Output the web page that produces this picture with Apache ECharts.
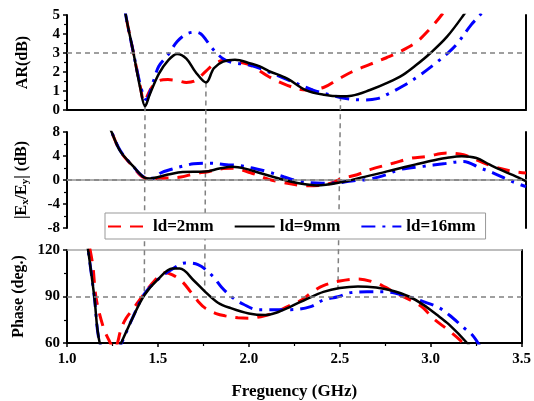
<!DOCTYPE html>
<html>
<head>
<meta charset="utf-8">
<script src="https://cdn.jsdelivr.net/npm/echarts@6/dist/echarts.min.js"></script>
<style>
  html, body { margin: 0; padding: 0; background: #fff; }
  #chart { width: 534px; height: 401px; }
</style>
</head>
<body>
<div id="chart"></div>
<script>
(function () {
  // series names
  const names = ["ld=2mm", "ld=9mm", "ld=16mm"];

  // AR (dB)
  const arX2 = [1.29, 1.32, 1.36, 1.40, 1.42, 1.45, 1.49, 1.55, 1.60, 1.65, 1.70, 1.757, 1.80, 1.85, 1.90, 1.95, 2.0, 2.1, 2.2, 2.3, 2.4, 2.47, 2.55, 2.65, 2.74, 2.81, 2.9, 2.97, 3.04, 3.08];
  const arY2 = [7.0, 5.0, 3.1, 1.2, 0.45, 1.0, 1.5, 1.6, 1.55, 1.45, 1.55, 2.05, 2.4, 2.6, 2.6, 2.5, 2.35, 1.75, 1.3, 1.05, 1.2, 1.58, 2.0, 2.4, 2.75, 3.05, 3.55, 4.2, 5.0, 5.6];
  const arX9 = [1.29, 1.32, 1.36, 1.40, 1.425, 1.45, 1.50, 1.55, 1.60, 1.65, 1.70, 1.757, 1.80, 1.85, 1.915, 2.0, 2.05, 2.1, 2.2, 2.3, 2.4, 2.49, 2.55, 2.65, 2.75, 2.83, 2.9, 2.98, 3.07, 3.16, 3.2];
  const arY9 = [7.0, 5.0, 3.1, 1.1, 0.2, 0.8, 1.9, 2.6, 2.95, 2.7, 2.0, 1.45, 2.2, 2.55, 2.65, 2.45, 2.3, 2.05, 1.65, 1.05, 0.8, 0.72, 0.75, 1.05, 1.45, 1.85, 2.35, 3.0, 3.86, 5.0, 5.6];
  const arX16 = [1.29, 1.32, 1.36, 1.40, 1.43, 1.47, 1.50, 1.55, 1.60, 1.65, 1.70, 1.73, 1.76, 1.80, 1.85, 1.90, 2.0, 2.1, 2.2, 2.34, 2.45, 2.52, 2.61, 2.69, 2.75, 2.83, 2.91, 3.0, 3.08, 3.13, 3.2, 3.25, 3.3];
  const arY16 = [7.0, 5.0, 3.1, 1.3, 0.55, 1.5, 2.3, 2.9, 3.6, 4.0, 4.1, 4.0, 3.65, 3.15, 2.7, 2.5, 2.35, 2.0, 1.6, 1.05, 0.75, 0.6, 0.53, 0.6, 0.85, 1.26, 1.75, 2.4, 3.05, 3.55, 4.47, 5.0, 5.6];

  // |Ex/Ey| (dB)
  const exX2 = [1.20, 1.243, 1.29, 1.36, 1.42, 1.47, 1.55, 1.62, 1.70, 1.76, 1.85, 1.90, 2.0, 2.1, 2.16, 2.3, 2.38, 2.45, 2.5, 2.58, 2.65, 2.78, 2.87, 2.96, 3.07, 3.16, 3.25, 3.32, 3.43, 3.5];
  const exY2 = [11, 8, 4.8, 2.2, 0.4, 0.25, 0.35, 0.5, 1.1, 1.35, 1.9, 1.95, 1.2, 0.1, -0.3, -0.95, -0.9, -0.4, 0.3, 0.88, 1.72, 2.83, 3.6, 3.93, 4.5, 4.2, 3.1, 2.27, 1.43, 1.17];
  const exX9 = [1.20, 1.243, 1.29, 1.36, 1.416, 1.45, 1.55, 1.63, 1.75, 1.83, 1.90, 1.97, 2.05, 2.18, 2.27, 2.36, 2.5, 2.6, 2.7, 2.78, 2.9, 3.0, 3.08, 3.15, 3.23, 3.3, 3.36, 3.43, 3.5];
  const exY9 = [11, 8, 4.8, 2.3, 0.5, 0.25, 0.9, 1.33, 1.4, 1.9, 2.2, 1.9, 1.17, 0.05, -0.6, -0.9, -0.35, 0.4, 1.1, 1.72, 2.6, 3.3, 3.75, 3.95, 3.66, 2.6, 1.72, 0.8, -0.2];
  const exX16 = [1.20, 1.243, 1.29, 1.36, 1.42, 1.47, 1.51, 1.57, 1.63, 1.69, 1.77, 1.87, 1.94, 2.01, 2.09, 2.18, 2.27, 2.39, 2.47, 2.55, 2.65, 2.74, 2.81, 2.94, 3.05, 3.16, 3.25, 3.32, 3.42, 3.5];
  const exY16 = [11, 8, 4.9, 2.3, 0.5, 0.3, 1.17, 1.8, 2.3, 2.7, 2.8, 2.55, 2.4, 2.0, 1.4, 0.55, -0.25, -0.55, -0.5, -0.15, 0.17, 0.9, 1.72, 2.27, 2.7, 3.1, 2.0, 1.2, -0.2, -1.1];

  // Phase (deg.)
  const phX2 = [1.10, 1.14, 1.16, 1.20, 1.23, 1.26, 1.30, 1.325, 1.36, 1.42, 1.48, 1.54, 1.58, 1.63, 1.68, 1.72, 1.76, 1.82, 1.87, 1.94, 2.0, 2.1, 2.17, 2.23, 2.29, 2.35, 2.41, 2.5, 2.6, 2.69, 2.75, 2.81, 2.9, 2.96, 3.01, 3.1, 3.16, 3.2];
  const phY2 = [135, 111.6, 89, 70, 62, 56, 70, 76, 81.5, 91, 100, 105.4, 104, 100, 93, 87, 82.5, 79, 77.5, 76.3, 76, 78, 81, 84.6, 87.7, 93, 97, 100, 101.3, 99.2, 96, 92, 87, 82.5, 76.3, 68, 62, 57];
  const phX9 = [1.10, 1.116, 1.15, 1.18, 1.24, 1.298, 1.36, 1.425, 1.5, 1.58, 1.62, 1.7, 1.76, 1.83, 1.9, 2.0, 2.09, 2.15, 2.23, 2.32, 2.41, 2.5, 2.6, 2.7, 2.78, 2.88, 2.96, 3.03, 3.1, 3.2, 3.25];
  const phY9 = [130, 120, 90, 60, 45, 60, 76, 90.8, 101, 108, 108, 100, 93, 86, 82.5, 79, 78, 79.5, 83.5, 88.5, 93, 95.5, 96.5, 95.8, 94, 90, 84.6, 78.5, 72, 60, 52];
  const phX16 = [1.10, 1.116, 1.15, 1.18, 1.24, 1.30, 1.36, 1.425, 1.5, 1.58, 1.65, 1.72, 1.80, 1.85, 1.905, 1.97, 2.05, 2.1, 2.23, 2.34, 2.41, 2.49, 2.56, 2.65, 2.74, 2.85, 2.96, 3.05, 3.12, 3.18, 3.23, 3.27];
  const phY16 = [132, 120, 90, 60, 45, 60, 76, 91.5, 101, 107.8, 111.6, 110.6, 103.3, 96, 89.8, 85, 81.5, 81.5, 81.5, 83.5, 87.7, 89.8, 92.5, 93, 93, 90.8, 86.7, 82.5, 76.3, 70, 65, 58];

  // guide lines
  const refY = [3, 0, 90];
  const vLineX = [1.425, 1.757, 2.49];
  const vLineTop = [0.2, 1.45, 0.72];   // AR where the line starts
  const vLineBottom = [90.8, 93, 95];   // phase where the line ends

  const xTicks = { min: 1.0, max: 3.5, interval: 0.5 };
  const yRanges = [
    { min: 0, max: 5, interval: 1, name: "AR(dB)" },
    { min: -8, max: 8, interval: 4, name: "|E{sub|x}/E{sub|y}| (dB)" },
    { min: 60, max: 120, interval: 30, name: "Phase (deg.)" }
  ];

  const FONT = "Liberation Serif";
  const GRAY = "#a8a8a8";
  const GUIDE = "#808080";

  const styles = [
    { color: "#ff0000", width: 3, type: [13, 9] },
    { color: "#000000", width: 2.5, type: "solid" },
    { color: "#0000ff", width: 3, type: [14, 7, 3, 7] }
  ];

  function zip(xs, ys) {
    return xs.map(function (x, i) { return [x, ys[i]]; });
  }

  const panels = [
    [zip(arX2, arY2), zip(arX9, arY9), zip(arX16, arY16)],
    [zip(exX2, exY2), zip(exX9, exY9), zip(exX16, exY16)],
    [zip(phX2, phY2), zip(phX9, phY9), zip(phX16, phY16)]
  ];

  const grids = [
    { left: 67, right: 8, top: 15, height: 95 },
    { left: 67, right: 8, top: 132, height: 96 },
    { left: 67, right: 8, top: 250, height: 96 }
  ];

  const labelStyle = { fontFamily: FONT, fontWeight: "bold", fontSize: 15, color: "#000" };

  const xAxes = [];
  const yAxes = [];
  grids.forEach(function (g, p) {
    const isLast = p === 2;
    // bottom
    xAxes.push({
      gridIndex: p, type: "value", position: "bottom",
      min: xTicks.min, max: xTicks.max, interval: xTicks.interval,
      axisLine: { show: true, lineStyle: { color: isLast ? "#000" : GRAY, width: isLast ? 2 : 1.5 } },
      axisTick: { show: isLast, length: 4, lineStyle: { color: "#000", width: 1.5 } },
      minorTick: { show: isLast, splitNumber: 2, length: 3, lineStyle: { color: "#000", width: 1.2 } },
      axisLabel: Object.assign({ show: isLast, margin: 9, formatter: function (v) { return v.toFixed(1); } }, labelStyle),
      splitLine: { show: false },
      name: isLast ? "Freguency (GHz)" : "",
      nameLocation: "middle",
      nameGap: 40,
      nameTextStyle: { fontFamily: FONT, fontWeight: "bold", fontSize: 17, color: "#000" }
    });
    // top border
    xAxes.push({
      gridIndex: p, type: "value", position: "top",
      min: xTicks.min, max: xTicks.max,
      axisLine: { show: true, lineStyle: { color: p === 0 ? "#000" : GRAY, width: p === 0 ? 2 : 1.5 } },
      axisTick: { show: false }, axisLabel: { show: false }, splitLine: { show: false }
    });
    const r = yRanges[p];
    yAxes.push({
      gridIndex: p, type: "value", position: "left",
      min: r.min, max: r.max, interval: r.interval,
      axisLine: { show: true, lineStyle: { color: "#000", width: 2 } },
      axisTick: { show: true, length: 4, lineStyle: { color: "#000", width: 1.5 } },
      minorTick: { show: true, splitNumber: 2, length: 3, lineStyle: { color: "#000", width: 1.2 } },
      axisLabel: Object.assign({ margin: 7 }, labelStyle),
      splitLine: { show: false },
      name: r.name,
      nameLocation: "middle",
      nameRotate: 90,
      nameGap: p === 2 ? 38 : 36,
      nameTextStyle: {
        fontFamily: FONT, fontWeight: "bold", fontSize: 16, color: "#000",
        rich: { sub: { fontFamily: FONT, fontWeight: "bold", fontSize: 11, color: "#000", verticalAlign: "bottom", padding: [8, 0, 0, 0] } }
      }
    });
    yAxes.push({
      gridIndex: p, type: "value", position: "right",
      min: r.min, max: r.max,
      axisLine: { show: true, lineStyle: { color: "#000", width: 2 } },
      axisTick: { show: false }, axisLabel: { show: false }, splitLine: { show: false }
    });
  });

  const series = [];
  panels.forEach(function (curves, p) {
    curves.forEach(function (data, k) {
      const s = {
        name: names[k],
        type: "line",
        xAxisIndex: 2 * p,
        yAxisIndex: 2 * p,
        data: data,
        symbol: "none",
        showSymbol: false,
        smooth: 0.35,
        clip: true,
        z: k === 1 ? 4 : 3,
        lineStyle: { color: styles[k].color, width: styles[k].width, type: styles[k].type },
        itemStyle: { color: styles[k].color }
      };
      if (k === 1) {
        s.markLine = {
          silent: true,
          symbol: ["none", "none"],
          label: { show: false },
          lineStyle: { color: GUIDE, type: [5, 4], width: 1.5 },
          data: [{ yAxis: refY[p] }]
        };
      }
      series.push(s);
    });
  });

  const chart = echarts.init(document.getElementById("chart"), null, { renderer: "canvas" });
  chart.setOption({
    animation: false,
    backgroundColor: "#fff",
    grid: grids,
    xAxis: xAxes,
    yAxis: yAxes,
    legend: {
      data: names,
      left: 105,
      top: 213,
      z: 10,
      itemWidth: 40,
      itemHeight: 12,
      itemGap: 20,
      itemStyle: { opacity: 0 },
      padding: [5, 10, 4, 2],
      borderColor: "#999",
      borderWidth: 1,
      backgroundColor: "#fff",
      textStyle: { fontFamily: FONT, fontWeight: "bold", fontSize: 17, color: "#000" }
    },
    series: series
  });

  // vertical guides from the AR panel down to the phase panel
  const guides = vLineX.map(function (x, i) {
    const a = chart.convertToPixel({ xAxisIndex: 0, yAxisIndex: 0 }, [x, vLineTop[i]]);
    const b = chart.convertToPixel({ xAxisIndex: 4, yAxisIndex: 4 }, [x, vLineBottom[i]]);
    return {
      type: "line",
      silent: true,
      z: 1,
      shape: { x1: a[0], y1: a[1], x2: b[0], y2: b[1] },
      style: { stroke: GUIDE, lineWidth: 1.5, lineDash: [5, 4] }
    };
  });
  chart.setOption({ graphic: guides });
})();
</script>
</body>
</html>
